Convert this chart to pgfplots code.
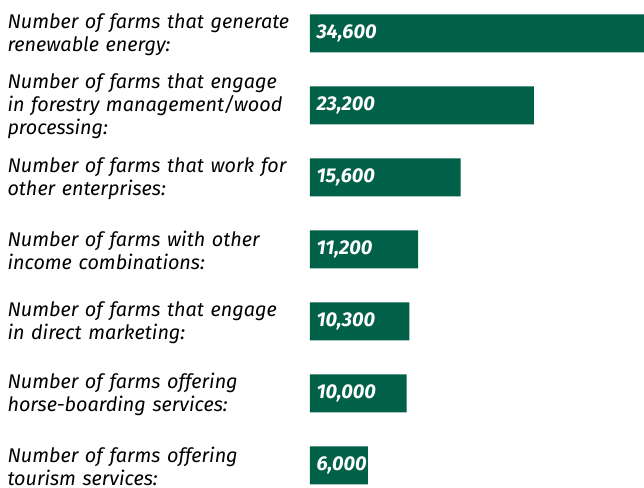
\documentclass[border=0pt]{standalone}
\usepackage{pgfplots}
\pgfplotsset{compat=1.18}
\usepackage{fontspec}
\setmainfont{Fira Sans}
\definecolor{bargreen}{RGB}{0,96,72}
\begin{document}
\begin{tikzpicture}
\begin{axis}[name=ax, scale only axis, width=334pt, height=488pt,
  xmin=0, xmax=34600, ymin=-0.465, ymax=6.313, y dir=reverse,
  axis line style={draw=none}, major tick length=0pt, xtick=\empty,
  ytick={0,...,6},
  yticklabels={{Number of farms that generate\\renewable energy:},
    {Number of farms that engage\\in forestry management/wood\\processing:},
    {Number of farms that work for\\other enterprises:},
    {Number of farms with other\\income combinations:},
    {Number of farms that engage\\in direct marketing:},
    {Number of farms offering\\horse-boarding services:},
    {Number of farms offering\\tourism services:}},
  yticklabel style={anchor=west, text width=298pt, align=left, xshift=-306pt, yshift=-1pt,
    font=\fontsize{19.8}{23}\selectfont\itshape},
  clip=true]
\addplot[xbar, bar width=38pt, fill=bargreen, draw=none]
  coordinates {(34600,0) (23200,1) (15600,2) (11200,3) (10300,4) (10000,5) (6000,6)};
\addplot[draw=none, mark=none, nodes near coords, point meta=explicit symbolic,
  nodes near coords style={anchor=west, text=white,
    font=\fontsize{20}{23}\selectfont\bfseries\itshape, xshift=3pt}]
  table[meta=lab] {
x y lab
0 0 34,600
0 1 23,200
0 2 15,600
0 3 11,200
0 4 10,300
0 5 10,000
0 6 6,000
};
\end{axis}
\pgfresetboundingbox
\path[use as bounding box] ([xshift=-310pt]ax.south west) rectangle (ax.north east);
\end{tikzpicture}
\end{document}
